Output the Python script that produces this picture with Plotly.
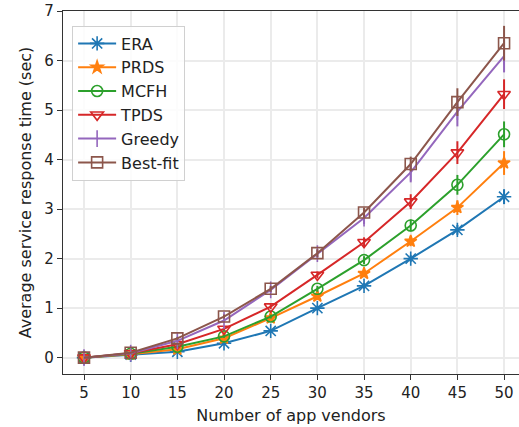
import plotly.graph_objects as go

vendors = [5, 10, 15, 20, 25, 30, 35, 40, 45, 50]

era = [0.0, 0.06, 0.12, 0.29, 0.54, 1.00, 1.45, 2.00, 2.58, 3.25]
prds = [0.0, 0.07, 0.17, 0.39, 0.80, 1.24, 1.70, 2.35, 3.03, 3.93]
mcfh = [0.0, 0.08, 0.22, 0.43, 0.83, 1.39, 1.97, 2.67, 3.49, 4.51]
tpds = [0.0, 0.09, 0.27, 0.58, 1.03, 1.67, 2.33, 3.15, 4.14, 5.32]
greedy = [0.0, 0.09, 0.34, 0.75, 1.37, 2.10, 2.82, 3.74, 4.97, 6.09]
bestfit = [0.0, 0.10, 0.39, 0.83, 1.39, 2.11, 2.93, 3.91, 5.16, 6.35]

era_err = [0.0, 0.01, 0.02, 0.03, 0.04, 0.05, 0.06, 0.07, 0.10, 0.15]
prds_err = [0.0, 0.01, 0.02, 0.03, 0.04, 0.05, 0.07, 0.10, 0.15, 0.24]
mcfh_err = [0.0, 0.01, 0.02, 0.03, 0.04, 0.06, 0.08, 0.12, 0.20, 0.26]
tpds_err = [0.0, 0.01, 0.02, 0.03, 0.05, 0.07, 0.10, 0.15, 0.23, 0.30]
greedy_err = [0.0, 0.01, 0.03, 0.04, 0.06, 0.08, 0.12, 0.20, 0.30, 0.33]
bestfit_err = [0.0, 0.01, 0.03, 0.04, 0.06, 0.08, 0.10, 0.15, 0.28, 0.35]

series = [
    ("ERA", era, era_err, "#1f77b4", "asterisk-open", 12),
    ("PRDS", prds, prds_err, "#ff7f0e", "star", 9),
    ("MCFH", mcfh, mcfh_err, "#2ca02c", "circle-open", 11),
    ("TPDS", tpds, tpds_err, "#d62728", "triangle-down-open", 11),
    ("Greedy", greedy, greedy_err, "#9467bd", "line-ns-open", 12),
    ("Best-fit", bestfit, bestfit_err, "#8c564b", "square-open", 11),
]

fig = go.Figure()
for name, ys, errs, color, sym, sz in series:
    fig.add_trace(go.Scatter(
        x=vendors, y=ys, name=name, mode="lines+markers",
        line=dict(color=color, width=2),
        marker=dict(symbol=sym, size=sz, color=color,
                    line=dict(color=color, width=1.6)),
        error_y=dict(type="data", array=errs, visible=True,
                     color=color, thickness=2, width=0),
    ))

font = "DejaVu Sans, Arial, sans-serif"
fig.update_layout(
    width=519, height=427,
    margin=dict(l=63, r=0, t=11, b=53),
    paper_bgcolor="white", plot_bgcolor="white",
    font=dict(family=font, size=15, color="#222"),
    showlegend=True,
    legend=dict(x=0.02, y=0.96, xanchor="left", yanchor="top",
                bgcolor="rgba(255,255,255,0.85)", bordercolor="#d0d0d0",
                borderwidth=1, font=dict(size=16, family=font),
                tracegroupgap=0, itemwidth=38),
    xaxis=dict(
        range=[2.75, 51.6], tickvals=vendors,
        ticks="outside", ticklen=5, tickcolor="#333",
        showgrid=True, gridcolor="#ebebeb", gridwidth=1.5,
        showline=True, linecolor="#333", linewidth=1.2, mirror=True,
        zeroline=False,
        title=dict(text="Number of app vendors", font=dict(size=16), standoff=8),
    ),
    yaxis=dict(
        range=[-0.33, 7.0], tickvals=[0, 1, 2, 3, 4, 5, 6, 7],
        ticks="outside", ticklen=5, tickcolor="#333",
        showgrid=True, gridcolor="#ebebeb", gridwidth=1.5,
        showline=True, linecolor="#333", linewidth=1.2, mirror=True,
        zeroline=False,
        title=dict(text="Average service response time (sec)", font=dict(size=16), standoff=8),
    ),
)

fig.write_html("out.html")
